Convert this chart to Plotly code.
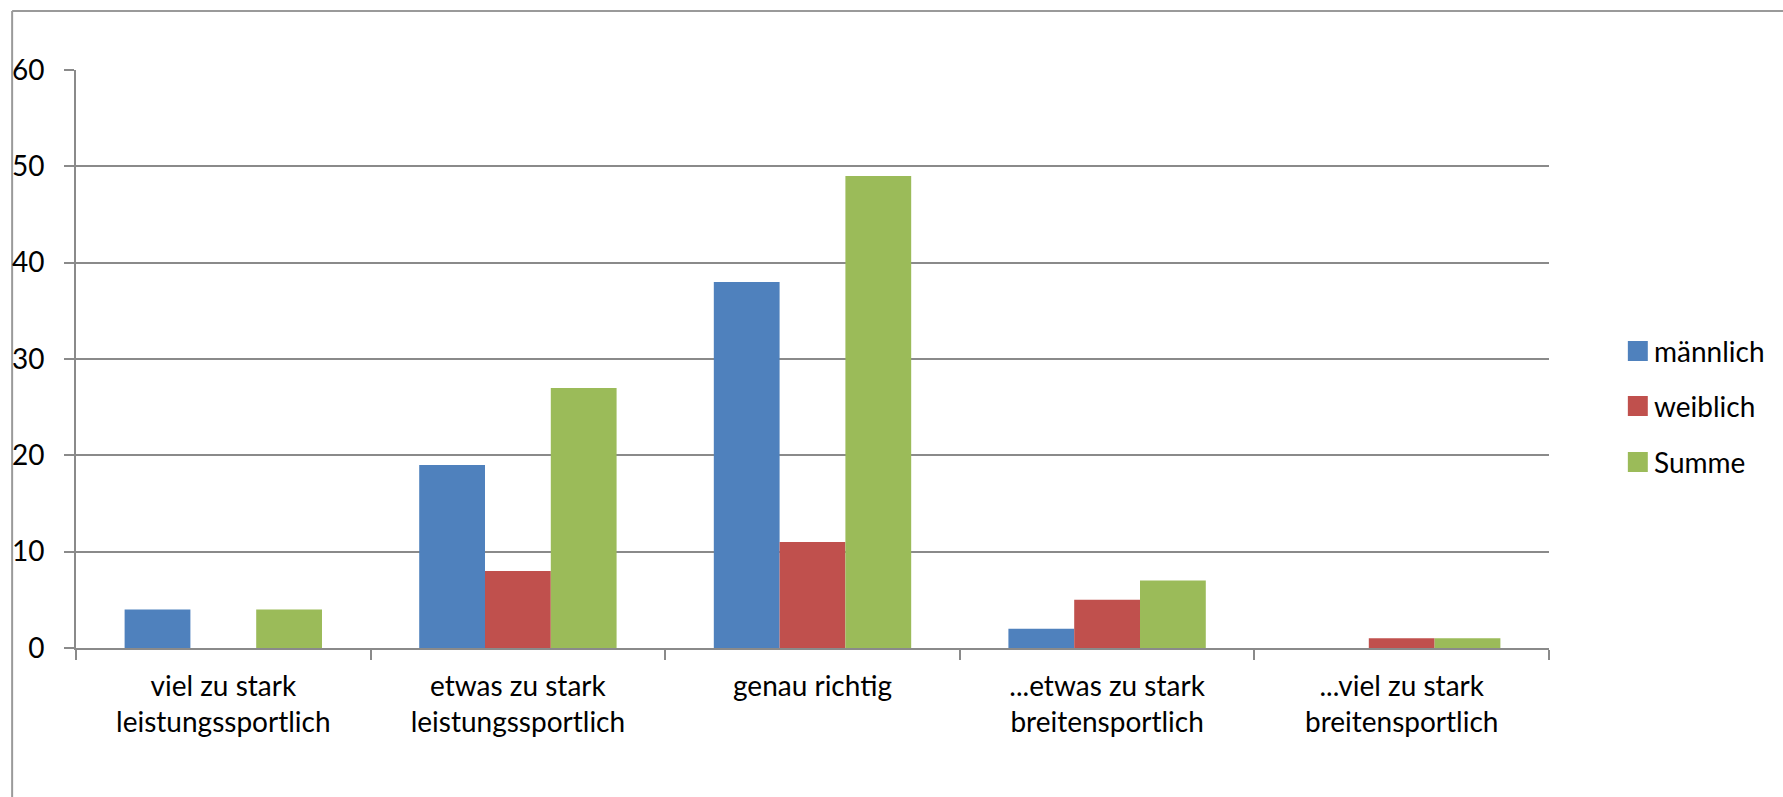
import plotly.graph_objects as go

categories = [
    "viel zu stark<br>leistungssportlich",
    "etwas zu stark<br>leistungssportlich",
    "genau richtig",
    "...etwas zu stark<br>breitensportlich",
    "...viel zu stark<br>breitensportlich",
]
maennlich = [4, 19, 38, 2, 0]
weiblich = [0, 8, 11, 5, 1]
summe = [4, 27, 49, 7, 1]
series_names = ["männlich", "weiblich", "Summe"]
series_colors = ["#4F81BD", "#C0504D", "#9BBB59"]
y_ticks = [0, 10, 20, 30, 40, 50, 60]

FONT = "Lato"
GRID = "#8a8a8a"

fig = go.Figure()
for name, vals, col in zip(series_names, [maennlich, weiblich, summe], series_colors):
    fig.add_trace(go.Bar(name=name, x=categories, y=vals, showlegend=False,
                         marker=dict(color=col, line=dict(width=0))))

W, H = 1783, 797
L, R, T, B = 73, 234, 70, 149
pw = W - L - R
ph = H - T - B


def px(x):
    return (x - L) / pw


def py(y):
    return (H - B - y) / ph


shapes = [
    dict(type="line", xref="paper", yref="paper", layer="below",
         x0=px(9), x1=px(9), y0=py(11), y1=py(820),
         line=dict(color="#9a9a9a", width=2)),
    dict(type="line", xref="paper", yref="paper", layer="below",
         x0=px(9), x1=px(1850), y0=py(11), y1=py(11),
         line=dict(color="#9a9a9a", width=2)),
]
annotations = []
legend_tops = [341, 396, 452]
for name, col, top in zip(series_names, series_colors, legend_tops):
    shapes.append(dict(type="rect", xref="paper", yref="paper",
                       x0=px(1628), x1=px(1648), y0=py(top), y1=py(top + 20),
                       fillcolor=col, line=dict(width=0)))
    annotations.append(dict(text=name, xref="paper", yref="paper",
                            x=px(1652), y=py(top + 10), xanchor="left", yanchor="middle",
                            showarrow=False, font=dict(family=FONT, size=28, color="#000000")))

fig.update_layout(
    width=W, height=H,
    margin=dict(l=L, r=R, t=T, b=B, pad=0),
    paper_bgcolor="white", plot_bgcolor="white",
    barmode="group", bargap=0.33, bargroupgap=0,
    font=dict(family=FONT, size=28, color="#000000"),
    showlegend=False,
    xaxis=dict(
        showline=True, linecolor=GRID, linewidth=2,
        ticks="outside", tickson="boundaries", ticklen=10, tickcolor=GRID, tickwidth=2,
        ticklabelstandoff=12,
        showgrid=False, fixedrange=True,
    ),
    yaxis=dict(
        range=[0, 60], tickvals=y_ticks, showgrid=True, gridcolor=GRID, gridwidth=2,
        showline=True, linecolor=GRID, linewidth=2, zeroline=False,
        ticks="outside", ticklen=10, tickcolor=GRID, tickwidth=2,
        ticklabelstandoff=14, fixedrange=True,
    ),
    shapes=shapes,
    annotations=annotations,
)

fig.write_html("out.html", config={"displayModeBar": False},
               post_script="document.body.style.margin='0';")
